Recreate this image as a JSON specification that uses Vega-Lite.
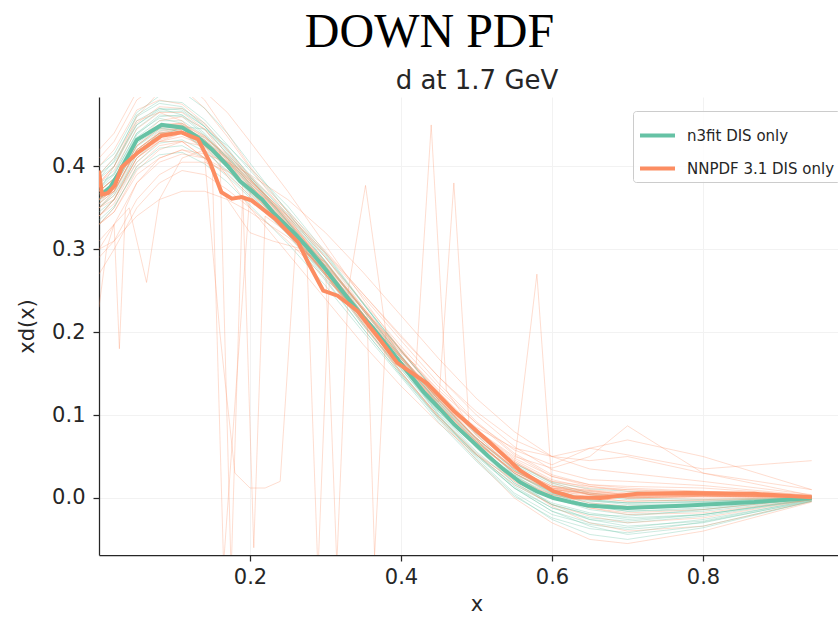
{
"$schema": "https://vega.github.io/schema/vega-lite/v6.json",
"width": 755, "height": 458,
"autosize": {"type": "none"},
"padding": {"left": 99, "top": 97, "right": 0, "bottom": 62},
"background": "white",
"title": {"text": "DOWN PDF", "font": "Liberation Serif", "fontSize": 48, "fontWeight": "normal", "color": "#000000", "anchor": "middle", "dx": -47, "offset": 10},
"config": {
 "view": {"stroke": null},
 "axis": {"domainColor": "#262626", "domainWidth": 1.25, "tickColor": "#262626", "tickSize": 6, "tickWidth": 1.25, "labelFont": "DejaVu Sans", "labelFontSize": 21, "labelColor": "#262626", "titleFont": "DejaVu Sans", "titleFontSize": 21, "titleFontWeight": "normal", "titleColor": "#262626", "gridColor": "#f2f2f2", "gridWidth": 1},
 "legend": {"orient": "top-right", "offset": 14, "labelFont": "DejaVu Sans", "labelFontSize": 15, "labelColor": "#262626", "symbolType": "stroke", "symbolSize": 1225, "symbolStrokeWidth": 4, "strokeColor": "#cccccc", "fillColor": "rgba(255,255,255,0.85)", "padding": 5, "rowPadding": 5, "labelOffset": 10, "cornerRadius": 3, "titlePadding": 0}
},
"datasets": {
"c": [
{"s":"n3fit DIS only","x":0.002,"y":0.365},{"s":"n3fit DIS only","x":0.015,"y":0.375},{"s":"n3fit DIS only","x":0.027,"y":0.393},{"s":"n3fit DIS only","x":0.05,"y":0.432},{"s":"n3fit DIS only","x":0.083,"y":0.45},{"s":"n3fit DIS only","x":0.11,"y":0.447},{"s":"n3fit DIS only","x":0.131,"y":0.435},{"s":"n3fit DIS only","x":0.15,"y":0.42},{"s":"n3fit DIS only","x":0.171,"y":0.4},{"s":"n3fit DIS only","x":0.187,"y":0.382},{"s":"n3fit DIS only","x":0.216,"y":0.36},{"s":"n3fit DIS only","x":0.231,"y":0.344},{"s":"n3fit DIS only","x":0.26,"y":0.318},{"s":"n3fit DIS only","x":0.276,"y":0.302},{"s":"n3fit DIS only","x":0.3,"y":0.276},{"s":"n3fit DIS only","x":0.32,"y":0.252},{"s":"n3fit DIS only","x":0.35,"y":0.218},{"s":"n3fit DIS only","x":0.363,"y":0.205},{"s":"n3fit DIS only","x":0.39,"y":0.174},{"s":"n3fit DIS only","x":0.408,"y":0.153},{"s":"n3fit DIS only","x":0.43,"y":0.128},{"s":"n3fit DIS only","x":0.452,"y":0.107},{"s":"n3fit DIS only","x":0.47,"y":0.089},{"s":"n3fit DIS only","x":0.49,"y":0.072},{"s":"n3fit DIS only","x":0.515,"y":0.051},{"s":"n3fit DIS only","x":0.535,"y":0.035},{"s":"n3fit DIS only","x":0.558,"y":0.019},{"s":"n3fit DIS only","x":0.58,"y":0.008},{"s":"n3fit DIS only","x":0.602,"y":0.0},{"s":"n3fit DIS only","x":0.625,"y":-0.005},{"s":"n3fit DIS only","x":0.647,"y":-0.009},{"s":"n3fit DIS only","x":0.7,"y":-0.012},{"s":"n3fit DIS only","x":0.78,"y":-0.009},{"s":"n3fit DIS only","x":0.868,"y":-0.005},{"s":"n3fit DIS only","x":0.944,"y":0.0},
{"s":"NNPDF 3.1 DIS only","x":0.0,"y":0.395},{"s":"NNPDF 3.1 DIS only","x":0.004,"y":0.366},{"s":"NNPDF 3.1 DIS only","x":0.012,"y":0.368},{"s":"NNPDF 3.1 DIS only","x":0.021,"y":0.377},{"s":"NNPDF 3.1 DIS only","x":0.03,"y":0.399},{"s":"NNPDF 3.1 DIS only","x":0.052,"y":0.417},{"s":"NNPDF 3.1 DIS only","x":0.083,"y":0.437},{"s":"NNPDF 3.1 DIS only","x":0.109,"y":0.441},{"s":"NNPDF 3.1 DIS only","x":0.131,"y":0.433},{"s":"NNPDF 3.1 DIS only","x":0.147,"y":0.405},{"s":"NNPDF 3.1 DIS only","x":0.162,"y":0.369},{"s":"NNPDF 3.1 DIS only","x":0.176,"y":0.361},{"s":"NNPDF 3.1 DIS only","x":0.189,"y":0.363},{"s":"NNPDF 3.1 DIS only","x":0.202,"y":0.359},{"s":"NNPDF 3.1 DIS only","x":0.233,"y":0.337},{"s":"NNPDF 3.1 DIS only","x":0.264,"y":0.308},{"s":"NNPDF 3.1 DIS only","x":0.277,"y":0.284},{"s":"NNPDF 3.1 DIS only","x":0.297,"y":0.25},{"s":"NNPDF 3.1 DIS only","x":0.316,"y":0.244},{"s":"NNPDF 3.1 DIS only","x":0.342,"y":0.226},{"s":"NNPDF 3.1 DIS only","x":0.373,"y":0.19},{"s":"NNPDF 3.1 DIS only","x":0.395,"y":0.163},{"s":"NNPDF 3.1 DIS only","x":0.435,"y":0.138},{"s":"NNPDF 3.1 DIS only","x":0.47,"y":0.105},{"s":"NNPDF 3.1 DIS only","x":0.515,"y":0.069},{"s":"NNPDF 3.1 DIS only","x":0.558,"y":0.033},{"s":"NNPDF 3.1 DIS only","x":0.602,"y":0.008},{"s":"NNPDF 3.1 DIS only","x":0.628,"y":0.001},{"s":"NNPDF 3.1 DIS only","x":0.664,"y":0.0},{"s":"NNPDF 3.1 DIS only","x":0.713,"y":0.005},{"s":"NNPDF 3.1 DIS only","x":0.78,"y":0.006},{"s":"NNPDF 3.1 DIS only","x":0.868,"y":0.005},{"s":"NNPDF 3.1 DIS only","x":0.944,"y":0.001}
],
"g": [
{"r":1,"x":0,"y":0.385},{"r":1,"x":0.02,"y":0.407},{"r":1,"x":0.05,"y":0.462},{"r":1,"x":0.08,"y":0.479},{"r":1,"x":0.11,"y":0.477},{"r":1,"x":0.14,"y":0.456},{"r":1,"x":0.17,"y":0.426},{"r":1,"x":0.2,"y":0.395},{"r":1,"x":0.25,"y":0.347},{"r":1,"x":0.3,"y":0.294},{"r":1,"x":0.35,"y":0.234},{"r":1,"x":0.4,"y":0.177},{"r":1,"x":0.45,"y":0.124},{"r":1,"x":0.5,"y":0.08},{"r":1,"x":0.55,"y":0.042},{"r":1,"x":0.6,"y":0.019},{"r":1,"x":0.65,"y":0.011},{"r":1,"x":0.7,"y":0.008},{"r":1,"x":0.8,"y":0.004},{"r":1,"x":0.944,"y":0.003},
{"r":2,"x":0,"y":0.335},{"r":2,"x":0.02,"y":0.352},{"r":2,"x":0.05,"y":0.397},{"r":2,"x":0.08,"y":0.414},{"r":2,"x":0.11,"y":0.417},{"r":2,"x":0.14,"y":0.403},{"r":2,"x":0.17,"y":0.381},{"r":2,"x":0.2,"y":0.353},{"r":2,"x":0.25,"y":0.307},{"r":2,"x":0.3,"y":0.256},{"r":2,"x":0.35,"y":0.2},{"r":2,"x":0.4,"y":0.146},{"r":2,"x":0.45,"y":0.091},{"r":2,"x":0.5,"y":0.044},{"r":2,"x":0.55,"y":0.002},{"r":2,"x":0.6,"y":-0.024},{"r":2,"x":0.65,"y":-0.037},{"r":2,"x":0.7,"y":-0.042},{"r":2,"x":0.8,"y":-0.029},{"r":2,"x":0.944,"y":-0.004},
{"r":3,"x":0,"y":0.37},{"r":3,"x":0.02,"y":0.4},{"r":3,"x":0.05,"y":0.455},{"r":3,"x":0.08,"y":0.47},{"r":3,"x":0.11,"y":0.462},{"r":3,"x":0.14,"y":0.44},{"r":3,"x":0.17,"y":0.41},{"r":3,"x":0.2,"y":0.378},{"r":3,"x":0.25,"y":0.326},{"r":3,"x":0.3,"y":0.27},{"r":3,"x":0.35,"y":0.21},{"r":3,"x":0.4,"y":0.152},{"r":3,"x":0.45,"y":0.098},{"r":3,"x":0.5,"y":0.052},{"r":3,"x":0.55,"y":0.012},{"r":3,"x":0.6,"y":-0.012},{"r":3,"x":0.65,"y":-0.024},{"r":3,"x":0.7,"y":-0.028},{"r":3,"x":0.8,"y":-0.02},{"r":3,"x":0.944,"y":-0.002},
{"r":4,"x":0,"y":0.35},{"r":4,"x":0.02,"y":0.365},{"r":4,"x":0.05,"y":0.41},{"r":4,"x":0.08,"y":0.435},{"r":4,"x":0.11,"y":0.448},{"r":4,"x":0.14,"y":0.445},{"r":4,"x":0.17,"y":0.425},{"r":4,"x":0.2,"y":0.398},{"r":4,"x":0.25,"y":0.352},{"r":4,"x":0.3,"y":0.296},{"r":4,"x":0.35,"y":0.235},{"r":4,"x":0.4,"y":0.172},{"r":4,"x":0.45,"y":0.112},{"r":4,"x":0.5,"y":0.06},{"r":4,"x":0.55,"y":0.018},{"r":4,"x":0.6,"y":-0.008},{"r":4,"x":0.65,"y":-0.02},{"r":4,"x":0.7,"y":-0.022},{"r":4,"x":0.8,"y":-0.014},{"r":4,"x":0.944,"y":0.0},
{"r":5,"x":0,"y":0.38},{"r":5,"x":0.02,"y":0.39},{"r":5,"x":0.05,"y":0.44},{"r":5,"x":0.08,"y":0.462},{"r":5,"x":0.11,"y":0.46},{"r":5,"x":0.14,"y":0.438},{"r":5,"x":0.17,"y":0.408},{"r":5,"x":0.2,"y":0.376},{"r":5,"x":0.25,"y":0.324},{"r":5,"x":0.3,"y":0.268},{"r":5,"x":0.35,"y":0.208},{"r":5,"x":0.4,"y":0.155},{"r":5,"x":0.45,"y":0.104},{"r":5,"x":0.5,"y":0.062},{"r":5,"x":0.55,"y":0.028},{"r":5,"x":0.6,"y":0.008},{"r":5,"x":0.65,"y":-0.002},{"r":5,"x":0.7,"y":-0.006},{"r":5,"x":0.8,"y":-0.005},{"r":5,"x":0.944,"y":0.001},
{"r":6,"x":0,"y":0.355},{"r":6,"x":0.02,"y":0.37},{"r":6,"x":0.05,"y":0.42},{"r":6,"x":0.08,"y":0.44},{"r":6,"x":0.11,"y":0.44},{"r":6,"x":0.14,"y":0.423},{"r":6,"x":0.17,"y":0.398},{"r":6,"x":0.2,"y":0.372},{"r":6,"x":0.25,"y":0.33},{"r":6,"x":0.3,"y":0.283},{"r":6,"x":0.35,"y":0.228},{"r":6,"x":0.4,"y":0.172},{"r":6,"x":0.45,"y":0.118},{"r":6,"x":0.5,"y":0.07},{"r":6,"x":0.55,"y":0.028},{"r":6,"x":0.6,"y":0.0},{"r":6,"x":0.65,"y":-0.014},{"r":6,"x":0.7,"y":-0.02},{"r":6,"x":0.8,"y":-0.016},{"r":6,"x":0.944,"y":-0.002},
{"r":7,"x":0,"y":0.39},{"r":7,"x":0.02,"y":0.405},{"r":7,"x":0.05,"y":0.45},{"r":7,"x":0.08,"y":0.468},{"r":7,"x":0.11,"y":0.47},{"r":7,"x":0.14,"y":0.452},{"r":7,"x":0.17,"y":0.422},{"r":7,"x":0.2,"y":0.388},{"r":7,"x":0.25,"y":0.333},{"r":7,"x":0.3,"y":0.273},{"r":7,"x":0.35,"y":0.21},{"r":7,"x":0.4,"y":0.15},{"r":7,"x":0.45,"y":0.096},{"r":7,"x":0.5,"y":0.05},{"r":7,"x":0.55,"y":0.012},{"r":7,"x":0.6,"y":-0.016},{"r":7,"x":0.65,"y":-0.03},{"r":7,"x":0.7,"y":-0.036},{"r":7,"x":0.8,"y":-0.026},{"r":7,"x":0.944,"y":-0.003},
{"r":8,"x":0,"y":0.345},{"r":8,"x":0.02,"y":0.36},{"r":8,"x":0.05,"y":0.405},{"r":8,"x":0.08,"y":0.428},{"r":8,"x":0.11,"y":0.432},{"r":8,"x":0.14,"y":0.418},{"r":8,"x":0.17,"y":0.395},{"r":8,"x":0.2,"y":0.367},{"r":8,"x":0.25,"y":0.322},{"r":8,"x":0.3,"y":0.273},{"r":8,"x":0.35,"y":0.22},{"r":8,"x":0.4,"y":0.168},{"r":8,"x":0.45,"y":0.12},{"r":8,"x":0.5,"y":0.078},{"r":8,"x":0.55,"y":0.042},{"r":8,"x":0.6,"y":0.018},{"r":8,"x":0.65,"y":0.006},{"r":8,"x":0.7,"y":0.0},{"r":8,"x":0.8,"y":-0.002},{"r":8,"x":0.944,"y":0.001},
{"r":9,"x":0,"y":0.37},{"r":9,"x":0.02,"y":0.385},{"r":9,"x":0.05,"y":0.435},{"r":9,"x":0.08,"y":0.455},{"r":9,"x":0.11,"y":0.455},{"r":9,"x":0.14,"y":0.437},{"r":9,"x":0.17,"y":0.411},{"r":9,"x":0.2,"y":0.382},{"r":9,"x":0.25,"y":0.333},{"r":9,"x":0.3,"y":0.28},{"r":9,"x":0.35,"y":0.22},{"r":9,"x":0.4,"y":0.161},{"r":9,"x":0.45,"y":0.104},{"r":9,"x":0.5,"y":0.056},{"r":9,"x":0.55,"y":0.018},{"r":9,"x":0.6,"y":-0.006},{"r":9,"x":0.65,"y":-0.018},{"r":9,"x":0.7,"y":-0.024},{"r":9,"x":0.8,"y":-0.02},{"r":9,"x":0.944,"y":-0.001},
{"r":10,"x":0,"y":0.36},{"r":10,"x":0.02,"y":0.378},{"r":10,"x":0.05,"y":0.428},{"r":10,"x":0.08,"y":0.446},{"r":10,"x":0.11,"y":0.442},{"r":10,"x":0.14,"y":0.42},{"r":10,"x":0.17,"y":0.392},{"r":10,"x":0.2,"y":0.364},{"r":10,"x":0.25,"y":0.32},{"r":10,"x":0.3,"y":0.272},{"r":10,"x":0.35,"y":0.217},{"r":10,"x":0.4,"y":0.165},{"r":10,"x":0.45,"y":0.116},{"r":10,"x":0.5,"y":0.072},{"r":10,"x":0.55,"y":0.034},{"r":10,"x":0.6,"y":0.01},{"r":10,"x":0.65,"y":-0.003},{"r":10,"x":0.7,"y":-0.008},{"r":10,"x":0.8,"y":-0.008},{"r":10,"x":0.944,"y":0.0},
{"r":11,"x":0,"y":0.4},{"r":11,"x":0.02,"y":0.415},{"r":11,"x":0.05,"y":0.465},{"r":11,"x":0.08,"y":0.485},{"r":11,"x":0.11,"y":0.49},{"r":11,"x":0.14,"y":0.47},{"r":11,"x":0.17,"y":0.44},{"r":11,"x":0.2,"y":0.404},{"r":11,"x":0.25,"y":0.345},{"r":11,"x":0.3,"y":0.285},{"r":11,"x":0.35,"y":0.222},{"r":11,"x":0.4,"y":0.16},{"r":11,"x":0.45,"y":0.1},{"r":11,"x":0.5,"y":0.048},{"r":11,"x":0.55,"y":0.006},{"r":11,"x":0.6,"y":-0.02},{"r":11,"x":0.65,"y":-0.032},{"r":11,"x":0.7,"y":-0.038},{"r":11,"x":0.8,"y":-0.03},{"r":11,"x":0.944,"y":-0.003},
{"r":12,"x":0,"y":0.33},{"r":12,"x":0.02,"y":0.35},{"r":12,"x":0.05,"y":0.4},{"r":12,"x":0.08,"y":0.422},{"r":12,"x":0.11,"y":0.425},{"r":12,"x":0.14,"y":0.41},{"r":12,"x":0.17,"y":0.388},{"r":12,"x":0.2,"y":0.362},{"r":12,"x":0.25,"y":0.318},{"r":12,"x":0.3,"y":0.268},{"r":12,"x":0.35,"y":0.215},{"r":12,"x":0.4,"y":0.164},{"r":12,"x":0.45,"y":0.114},{"r":12,"x":0.5,"y":0.07},{"r":12,"x":0.55,"y":0.03},{"r":12,"x":0.6,"y":0.005},{"r":12,"x":0.65,"y":-0.01},{"r":12,"x":0.7,"y":-0.016},{"r":12,"x":0.8,"y":-0.014},{"r":12,"x":0.944,"y":-0.001},
{"r":13,"x":0,"y":0.372},{"r":13,"x":0.02,"y":0.39},{"r":13,"x":0.05,"y":0.44},{"r":13,"x":0.08,"y":0.458},{"r":13,"x":0.11,"y":0.452},{"r":13,"x":0.14,"y":0.43},{"r":13,"x":0.17,"y":0.4},{"r":13,"x":0.2,"y":0.37},{"r":13,"x":0.25,"y":0.322},{"r":13,"x":0.3,"y":0.27},{"r":13,"x":0.35,"y":0.214},{"r":13,"x":0.4,"y":0.158},{"r":13,"x":0.45,"y":0.106},{"r":13,"x":0.5,"y":0.062},{"r":13,"x":0.55,"y":0.026},{"r":13,"x":0.6,"y":0.004},{"r":13,"x":0.65,"y":-0.004},{"r":13,"x":0.7,"y":-0.006},{"r":13,"x":0.8,"y":-0.004},{"r":13,"x":0.944,"y":0.001},
{"r":14,"x":0,"y":0.358},{"r":14,"x":0.02,"y":0.374},{"r":14,"x":0.05,"y":0.424},{"r":14,"x":0.08,"y":0.443},{"r":14,"x":0.11,"y":0.446},{"r":14,"x":0.14,"y":0.43},{"r":14,"x":0.17,"y":0.406},{"r":14,"x":0.2,"y":0.38},{"r":14,"x":0.25,"y":0.337},{"r":14,"x":0.3,"y":0.286},{"r":14,"x":0.35,"y":0.228},{"r":14,"x":0.4,"y":0.17},{"r":14,"x":0.45,"y":0.115},{"r":14,"x":0.5,"y":0.066},{"r":14,"x":0.55,"y":0.022},{"r":14,"x":0.6,"y":-0.008},{"r":14,"x":0.65,"y":-0.026},{"r":14,"x":0.7,"y":-0.034},{"r":14,"x":0.8,"y":-0.028},{"r":14,"x":0.944,"y":-0.002},
{"r":15,"x":0,"y":0.362},{"r":15,"x":0.02,"y":0.38},{"r":15,"x":0.05,"y":0.43},{"r":15,"x":0.08,"y":0.448},{"r":15,"x":0.11,"y":0.446},{"r":15,"x":0.14,"y":0.426},{"r":15,"x":0.17,"y":0.398},{"r":15,"x":0.2,"y":0.368},{"r":15,"x":0.25,"y":0.318},{"r":15,"x":0.3,"y":0.262},{"r":15,"x":0.35,"y":0.204},{"r":15,"x":0.4,"y":0.148},{"r":15,"x":0.45,"y":0.094},{"r":15,"x":0.5,"y":0.046},{"r":15,"x":0.55,"y":0.004},{"r":15,"x":0.6,"y":-0.026},{"r":15,"x":0.65,"y":-0.044},{"r":15,"x":0.7,"y":-0.05},{"r":15,"x":0.8,"y":-0.036},{"r":15,"x":0.944,"y":-0.004},
{"r":16,"x":0,"y":0.375},{"r":16,"x":0.02,"y":0.392},{"r":16,"x":0.05,"y":0.446},{"r":16,"x":0.08,"y":0.466},{"r":16,"x":0.11,"y":0.466},{"r":16,"x":0.14,"y":0.448},{"r":16,"x":0.17,"y":0.42},{"r":16,"x":0.2,"y":0.39},{"r":16,"x":0.25,"y":0.34},{"r":16,"x":0.3,"y":0.285},{"r":16,"x":0.35,"y":0.226},{"r":16,"x":0.4,"y":0.168},{"r":16,"x":0.45,"y":0.114},{"r":16,"x":0.5,"y":0.068},{"r":16,"x":0.55,"y":0.03},{"r":16,"x":0.6,"y":0.006},{"r":16,"x":0.65,"y":-0.006},{"r":16,"x":0.7,"y":-0.01},{"r":16,"x":0.8,"y":-0.008},{"r":16,"x":0.944,"y":0.0},
{"r":17,"x":0,"y":0.34},{"r":17,"x":0.02,"y":0.36},{"r":17,"x":0.05,"y":0.415},{"r":17,"x":0.08,"y":0.44},{"r":17,"x":0.11,"y":0.445},{"r":17,"x":0.14,"y":0.432},{"r":17,"x":0.17,"y":0.41},{"r":17,"x":0.2,"y":0.384},{"r":17,"x":0.25,"y":0.34},{"r":17,"x":0.3,"y":0.29},{"r":17,"x":0.35,"y":0.234},{"r":17,"x":0.4,"y":0.178},{"r":17,"x":0.45,"y":0.124},{"r":17,"x":0.5,"y":0.076},{"r":17,"x":0.55,"y":0.034},{"r":17,"x":0.6,"y":0.006},{"r":17,"x":0.65,"y":-0.01},{"r":17,"x":0.7,"y":-0.016},{"r":17,"x":0.8,"y":-0.012},{"r":17,"x":0.944,"y":-0.001},
{"r":18,"x":0,"y":0.385},{"r":18,"x":0.02,"y":0.4},{"r":18,"x":0.05,"y":0.45},{"r":18,"x":0.08,"y":0.47},{"r":18,"x":0.11,"y":0.468},{"r":18,"x":0.14,"y":0.448},{"r":18,"x":0.17,"y":0.418},{"r":18,"x":0.2,"y":0.386},{"r":18,"x":0.25,"y":0.334},{"r":18,"x":0.3,"y":0.277},{"r":18,"x":0.35,"y":0.217},{"r":18,"x":0.4,"y":0.158},{"r":18,"x":0.45,"y":0.102},{"r":18,"x":0.5,"y":0.054},{"r":18,"x":0.55,"y":0.014},{"r":18,"x":0.6,"y":-0.012},{"r":18,"x":0.65,"y":-0.026},{"r":18,"x":0.7,"y":-0.03},{"r":18,"x":0.8,"y":-0.022},{"r":18,"x":0.944,"y":-0.002},
{"r":19,"x":0,"y":0.35},{"r":19,"x":0.02,"y":0.368},{"r":19,"x":0.05,"y":0.418},{"r":19,"x":0.08,"y":0.438},{"r":19,"x":0.11,"y":0.44},{"r":19,"x":0.14,"y":0.426},{"r":19,"x":0.17,"y":0.403},{"r":19,"x":0.2,"y":0.376},{"r":19,"x":0.25,"y":0.332},{"r":19,"x":0.3,"y":0.282},{"r":19,"x":0.35,"y":0.226},{"r":19,"x":0.4,"y":0.171},{"r":19,"x":0.45,"y":0.118},{"r":19,"x":0.5,"y":0.072},{"r":19,"x":0.55,"y":0.033},{"r":19,"x":0.6,"y":0.01},{"r":19,"x":0.65,"y":-0.002},{"r":19,"x":0.7,"y":-0.006},{"r":19,"x":0.8,"y":-0.006},{"r":19,"x":0.944,"y":0.0},
{"r":20,"x":0,"y":0.37},{"r":20,"x":0.02,"y":0.386},{"r":20,"x":0.05,"y":0.438},{"r":20,"x":0.08,"y":0.46},{"r":20,"x":0.11,"y":0.462},{"r":20,"x":0.14,"y":0.444},{"r":20,"x":0.17,"y":0.416},{"r":20,"x":0.2,"y":0.385},{"r":20,"x":0.25,"y":0.333},{"r":20,"x":0.3,"y":0.276},{"r":20,"x":0.35,"y":0.215},{"r":20,"x":0.4,"y":0.156},{"r":20,"x":0.45,"y":0.1},{"r":20,"x":0.5,"y":0.052},{"r":20,"x":0.55,"y":0.012},{"r":20,"x":0.6,"y":-0.016},{"r":20,"x":0.65,"y":-0.034},{"r":20,"x":0.7,"y":-0.044},{"r":20,"x":0.8,"y":-0.034},{"r":20,"x":0.944,"y":-0.004},
{"r":21,"x":0,"y":0.36},{"r":21,"x":0.02,"y":0.375},{"r":21,"x":0.05,"y":0.425},{"r":21,"x":0.08,"y":0.445},{"r":21,"x":0.11,"y":0.448},{"r":21,"x":0.14,"y":0.434},{"r":21,"x":0.17,"y":0.412},{"r":21,"x":0.2,"y":0.387},{"r":21,"x":0.25,"y":0.343},{"r":21,"x":0.3,"y":0.292},{"r":21,"x":0.35,"y":0.235},{"r":21,"x":0.4,"y":0.178},{"r":21,"x":0.45,"y":0.124},{"r":21,"x":0.5,"y":0.078},{"r":21,"x":0.55,"y":0.04},{"r":21,"x":0.6,"y":0.016},{"r":21,"x":0.65,"y":0.004},{"r":21,"x":0.7,"y":-0.002},{"r":21,"x":0.8,"y":-0.004},{"r":21,"x":0.944,"y":0.0},
{"r":22,"x":0,"y":0.39},{"r":22,"x":0.02,"y":0.41},{"r":22,"x":0.05,"y":0.46},{"r":22,"x":0.08,"y":0.476},{"r":22,"x":0.11,"y":0.472},{"r":22,"x":0.14,"y":0.448},{"r":22,"x":0.17,"y":0.414},{"r":22,"x":0.2,"y":0.378},{"r":22,"x":0.25,"y":0.322},{"r":22,"x":0.3,"y":0.264},{"r":22,"x":0.35,"y":0.204},{"r":22,"x":0.4,"y":0.148},{"r":22,"x":0.45,"y":0.096},{"r":22,"x":0.5,"y":0.052},{"r":22,"x":0.55,"y":0.016},{"r":22,"x":0.6,"y":-0.008},{"r":22,"x":0.65,"y":-0.02},{"r":22,"x":0.7,"y":-0.026},{"r":22,"x":0.8,"y":-0.02},{"r":22,"x":0.944,"y":-0.002}
],
"o": [
{"r":1,"x":0,"y":0.36},{"r":1,"x":0.02,"y":0.38},{"r":1,"x":0.05,"y":0.43},{"r":1,"x":0.08,"y":0.45},{"r":1,"x":0.11,"y":0.448},{"r":1,"x":0.14,"y":0.43},{"r":1,"x":0.17,"y":0.402},{"r":1,"x":0.2,"y":0.372},{"r":1,"x":0.25,"y":0.322},{"r":1,"x":0.3,"y":0.268},{"r":1,"x":0.35,"y":0.212},{"r":1,"x":0.4,"y":0.158},{"r":1,"x":0.45,"y":0.108},{"r":1,"x":0.5,"y":0.066},{"r":1,"x":0.55,"y":0.032},{"r":1,"x":0.6,"y":0.012},{"r":1,"x":0.65,"y":0.004},{"r":1,"x":0.7,"y":0.002},{"r":1,"x":0.8,"y":0.003},{"r":1,"x":0.944,"y":0.001},
{"r":2,"x":0,"y":0.31},{"r":2,"x":0.02,"y":0.33},{"r":2,"x":0.05,"y":0.38},{"r":2,"x":0.08,"y":0.405},{"r":2,"x":0.11,"y":0.415},{"r":2,"x":0.14,"y":0.41},{"r":2,"x":0.17,"y":0.395},{"r":2,"x":0.2,"y":0.37},{"r":2,"x":0.25,"y":0.328},{"r":2,"x":0.3,"y":0.28},{"r":2,"x":0.35,"y":0.228},{"r":2,"x":0.4,"y":0.176},{"r":2,"x":0.45,"y":0.126},{"r":2,"x":0.5,"y":0.082},{"r":2,"x":0.55,"y":0.046},{"r":2,"x":0.6,"y":0.022},{"r":2,"x":0.65,"y":0.012},{"r":2,"x":0.7,"y":0.01},{"r":2,"x":0.8,"y":0.008},{"r":2,"x":0.944,"y":0.002},
{"r":3,"x":0,"y":0.4},{"r":3,"x":0.02,"y":0.42},{"r":3,"x":0.05,"y":0.468},{"r":3,"x":0.08,"y":0.48},{"r":3,"x":0.11,"y":0.475},{"r":3,"x":0.14,"y":0.452},{"r":3,"x":0.17,"y":0.42},{"r":3,"x":0.2,"y":0.385},{"r":3,"x":0.25,"y":0.33},{"r":3,"x":0.3,"y":0.27},{"r":3,"x":0.35,"y":0.208},{"r":3,"x":0.4,"y":0.15},{"r":3,"x":0.45,"y":0.098},{"r":3,"x":0.5,"y":0.054},{"r":3,"x":0.55,"y":0.02},{"r":3,"x":0.6,"y":0.0},{"r":3,"x":0.65,"y":-0.01},{"r":3,"x":0.7,"y":-0.012},{"r":3,"x":0.8,"y":-0.008},{"r":3,"x":0.944,"y":0.0},
{"r":4,"x":0,"y":0.34},{"r":4,"x":0.02,"y":0.36},{"r":4,"x":0.05,"y":0.41},{"r":4,"x":0.08,"y":0.432},{"r":4,"x":0.11,"y":0.44},{"r":4,"x":0.14,"y":0.43},{"r":4,"x":0.17,"y":0.408},{"r":4,"x":0.2,"y":0.38},{"r":4,"x":0.25,"y":0.332},{"r":4,"x":0.3,"y":0.278},{"r":4,"x":0.35,"y":0.222},{"r":4,"x":0.4,"y":0.168},{"r":4,"x":0.45,"y":0.118},{"r":4,"x":0.5,"y":0.076},{"r":4,"x":0.55,"y":0.042},{"r":4,"x":0.6,"y":0.02},{"r":4,"x":0.65,"y":0.01},{"r":4,"x":0.7,"y":0.006},{"r":4,"x":0.8,"y":0.004},{"r":4,"x":0.944,"y":0.001},
{"r":5,"x":0,"y":0.38},{"r":5,"x":0.02,"y":0.4},{"r":5,"x":0.05,"y":0.452},{"r":5,"x":0.08,"y":0.472},{"r":5,"x":0.11,"y":0.47},{"r":5,"x":0.14,"y":0.45},{"r":5,"x":0.17,"y":0.42},{"r":5,"x":0.2,"y":0.388},{"r":5,"x":0.25,"y":0.336},{"r":5,"x":0.3,"y":0.28},{"r":5,"x":0.35,"y":0.222},{"r":5,"x":0.4,"y":0.164},{"r":5,"x":0.45,"y":0.11},{"r":5,"x":0.5,"y":0.064},{"r":5,"x":0.55,"y":0.026},{"r":5,"x":0.6,"y":0.002},{"r":5,"x":0.65,"y":-0.012},{"r":5,"x":0.7,"y":-0.018},{"r":5,"x":0.8,"y":-0.014},{"r":5,"x":0.944,"y":-0.001},
{"r":6,"x":0,"y":0.29},{"r":6,"x":0.02,"y":0.31},{"r":6,"x":0.05,"y":0.36},{"r":6,"x":0.08,"y":0.39},{"r":6,"x":0.11,"y":0.405},{"r":6,"x":0.14,"y":0.405},{"r":6,"x":0.17,"y":0.394},{"r":6,"x":0.2,"y":0.376},{"r":6,"x":0.25,"y":0.34},{"r":6,"x":0.3,"y":0.295},{"r":6,"x":0.35,"y":0.243},{"r":6,"x":0.4,"y":0.19},{"r":6,"x":0.45,"y":0.138},{"r":6,"x":0.5,"y":0.092},{"r":6,"x":0.55,"y":0.054},{"r":6,"x":0.6,"y":0.028},{"r":6,"x":0.65,"y":0.016},{"r":6,"x":0.7,"y":0.012},{"r":6,"x":0.8,"y":0.008},{"r":6,"x":0.944,"y":0.002},
{"r":7,"x":0,"y":0.41},{"r":7,"x":0.02,"y":0.43},{"r":7,"x":0.05,"y":0.48},{"r":7,"x":0.08,"y":0.5},{"r":7,"x":0.11,"y":0.495},{"r":7,"x":0.14,"y":0.47},{"r":7,"x":0.17,"y":0.436},{"r":7,"x":0.2,"y":0.398},{"r":7,"x":0.25,"y":0.34},{"r":7,"x":0.3,"y":0.276},{"r":7,"x":0.35,"y":0.212},{"r":7,"x":0.4,"y":0.152},{"r":7,"x":0.45,"y":0.098},{"r":7,"x":0.5,"y":0.052},{"r":7,"x":0.55,"y":0.016},{"r":7,"x":0.6,"y":-0.008},{"r":7,"x":0.65,"y":-0.022},{"r":7,"x":0.7,"y":-0.03},{"r":7,"x":0.8,"y":-0.024},{"r":7,"x":0.944,"y":-0.002},
{"r":8,"x":0,"y":0.36},{"r":8,"x":0.02,"y":0.375},{"r":8,"x":0.05,"y":0.425},{"r":8,"x":0.08,"y":0.445},{"r":8,"x":0.11,"y":0.445},{"r":8,"x":0.14,"y":0.428},{"r":8,"x":0.17,"y":0.402},{"r":8,"x":0.2,"y":0.375},{"r":8,"x":0.25,"y":0.33},{"r":8,"x":0.3,"y":0.278},{"r":8,"x":0.35,"y":0.222},{"r":8,"x":0.4,"y":0.17},{"r":8,"x":0.45,"y":0.122},{"r":8,"x":0.5,"y":0.082},{"r":8,"x":0.55,"y":0.05},{"r":8,"x":0.6,"y":0.036},{"r":8,"x":0.65,"y":0.05},{"r":8,"x":0.7,"y":0.087},{"r":8,"x":0.8,"y":0.03},{"r":8,"x":0.944,"y":0.003},
{"r":9,"x":0,"y":0.35},{"r":9,"x":0.02,"y":0.37},{"r":9,"x":0.05,"y":0.42},{"r":9,"x":0.08,"y":0.44},{"r":9,"x":0.11,"y":0.442},{"r":9,"x":0.14,"y":0.428},{"r":9,"x":0.17,"y":0.405},{"r":9,"x":0.2,"y":0.378},{"r":9,"x":0.25,"y":0.334},{"r":9,"x":0.3,"y":0.284},{"r":9,"x":0.35,"y":0.23},{"r":9,"x":0.4,"y":0.178},{"r":9,"x":0.45,"y":0.13},{"r":9,"x":0.5,"y":0.09},{"r":9,"x":0.55,"y":0.058},{"r":9,"x":0.6,"y":0.04},{"r":9,"x":0.65,"y":0.06},{"r":9,"x":0.7,"y":0.052},{"r":9,"x":0.8,"y":0.035},{"r":9,"x":0.944,"y":0.045},
{"r":10,"x":0,"y":0.37},{"r":10,"x":0.02,"y":0.385},{"r":10,"x":0.05,"y":0.43},{"r":10,"x":0.08,"y":0.45},{"r":10,"x":0.11,"y":0.452},{"r":10,"x":0.14,"y":0.437},{"r":10,"x":0.17,"y":0.412},{"r":10,"x":0.2,"y":0.384},{"r":10,"x":0.25,"y":0.338},{"r":10,"x":0.3,"y":0.284},{"r":10,"x":0.35,"y":0.226},{"r":10,"x":0.4,"y":0.168},{"r":10,"x":0.45,"y":0.112},{"r":10,"x":0.5,"y":0.062},{"r":10,"x":0.55,"y":0.02},{"r":10,"x":0.6,"y":-0.01},{"r":10,"x":0.65,"y":-0.03},{"r":10,"x":0.7,"y":-0.04},{"r":10,"x":0.8,"y":-0.034},{"r":10,"x":0.944,"y":-0.004},
{"r":11,"x":0,"y":0.33},{"r":11,"x":0.02,"y":0.345},{"r":11,"x":0.05,"y":0.395},{"r":11,"x":0.08,"y":0.42},{"r":11,"x":0.11,"y":0.43},{"r":11,"x":0.14,"y":0.424},{"r":11,"x":0.17,"y":0.406},{"r":11,"x":0.2,"y":0.382},{"r":11,"x":0.25,"y":0.342},{"r":11,"x":0.3,"y":0.296},{"r":11,"x":0.35,"y":0.246},{"r":11,"x":0.4,"y":0.196},{"r":11,"x":0.45,"y":0.146},{"r":11,"x":0.5,"y":0.1},{"r":11,"x":0.55,"y":0.062},{"r":11,"x":0.6,"y":0.034},{"r":11,"x":0.65,"y":0.022},{"r":11,"x":0.7,"y":0.02},{"r":11,"x":0.8,"y":0.015},{"r":11,"x":0.944,"y":0.003},
{"r":12,"x":0,"y":0.37},{"r":12,"x":0.02,"y":0.385},{"r":12,"x":0.05,"y":0.43},{"r":12,"x":0.08,"y":0.45},{"r":12,"x":0.11,"y":0.45},{"r":12,"x":0.14,"y":0.432},{"r":12,"x":0.17,"y":0.405},{"r":12,"x":0.2,"y":0.376},{"r":12,"x":0.25,"y":0.326},{"r":12,"x":0.3,"y":0.27},{"r":12,"x":0.35,"y":0.21},{"r":12,"x":0.4,"y":0.152},{"r":12,"x":0.45,"y":0.096},{"r":12,"x":0.5,"y":0.046},{"r":12,"x":0.55,"y":0.0},{"r":12,"x":0.6,"y":-0.03},{"r":12,"x":0.65,"y":-0.05},{"r":12,"x":0.7,"y":-0.055},{"r":12,"x":0.8,"y":-0.04},{"r":12,"x":0.944,"y":-0.005},
{"r":13,"x":0,"y":0.42},{"r":13,"x":0.02,"y":0.44},{"r":13,"x":0.05,"y":0.49},{"r":13,"x":0.08,"y":0.51},{"r":13,"x":0.11,"y":0.505},{"r":13,"x":0.14,"y":0.48},{"r":13,"x":0.17,"y":0.44},{"r":13,"x":0.2,"y":0.4},{"r":13,"x":0.25,"y":0.345},{"r":13,"x":0.3,"y":0.29},{"r":13,"x":0.35,"y":0.23},{"r":13,"x":0.4,"y":0.172},{"r":13,"x":0.45,"y":0.118},{"r":13,"x":0.5,"y":0.072},{"r":13,"x":0.55,"y":0.036},{"r":13,"x":0.6,"y":0.014},{"r":13,"x":0.65,"y":0.004},{"r":13,"x":0.7,"y":0.0},{"r":13,"x":0.8,"y":0.0},{"r":13,"x":0.944,"y":0.001},
{"r":14,"x":0,"y":0.35},{"r":14,"x":0.02,"y":0.365},{"r":14,"x":0.05,"y":0.415},{"r":14,"x":0.08,"y":0.44},{"r":14,"x":0.11,"y":0.445},{"r":14,"x":0.14,"y":0.435},{"r":14,"x":0.17,"y":0.414},{"r":14,"x":0.2,"y":0.388},{"r":14,"x":0.25,"y":0.346},{"r":14,"x":0.3,"y":0.298},{"r":14,"x":0.35,"y":0.246},{"r":14,"x":0.4,"y":0.194},{"r":14,"x":0.45,"y":0.146},{"r":14,"x":0.5,"y":0.104},{"r":14,"x":0.55,"y":0.07},{"r":14,"x":0.6,"y":0.05},{"r":14,"x":0.65,"y":0.045},{"r":14,"x":0.7,"y":0.05},{"r":14,"x":0.8,"y":0.03},{"r":14,"x":0.944,"y":0.01},
{"r":15,"x":0,"y":0.37},{"r":15,"x":0.02,"y":0.385},{"r":15,"x":0.05,"y":0.43},{"r":15,"x":0.08,"y":0.455},{"r":15,"x":0.11,"y":0.46},{"r":15,"x":0.14,"y":0.445},{"r":15,"x":0.16,"y":0.42},{"r":15,"x":0.175,"y":-0.09},{"r":15,"x":0.19,"y":0.36},{"r":15,"x":0.21,"y":0.355},{"r":15,"x":0.25,"y":0.325},{"r":15,"x":0.3,"y":0.27},{"r":15,"x":0.35,"y":0.214},{"r":15,"x":0.4,"y":0.16},{"r":15,"x":0.45,"y":0.11},{"r":15,"x":0.5,"y":0.066},{"r":15,"x":0.55,"y":0.03},{"r":15,"x":0.6,"y":0.008},{"r":15,"x":0.65,"y":0.0},{"r":15,"x":0.7,"y":-0.004},{"r":15,"x":0.8,"y":-0.002},{"r":15,"x":0.944,"y":0.001},
{"r":16,"x":0,"y":0.35},{"r":16,"x":0.02,"y":0.36},{"r":16,"x":0.05,"y":0.41},{"r":16,"x":0.08,"y":0.43},{"r":16,"x":0.11,"y":0.44},{"r":16,"x":0.14,"y":0.43},{"r":16,"x":0.17,"y":0.41},{"r":16,"x":0.19,"y":0.38},{"r":16,"x":0.205,"y":-0.06},{"r":16,"x":0.22,"y":0.34},{"r":16,"x":0.25,"y":0.32},{"r":16,"x":0.3,"y":0.27},{"r":16,"x":0.35,"y":0.215},{"r":16,"x":0.4,"y":0.162},{"r":16,"x":0.45,"y":0.112},{"r":16,"x":0.5,"y":0.068},{"r":16,"x":0.55,"y":0.032},{"r":16,"x":0.6,"y":0.01},{"r":16,"x":0.7,"y":0.002},{"r":16,"x":0.8,"y":0.003},{"r":16,"x":0.944,"y":0.001},
{"r":17,"x":0,"y":0.33},{"r":17,"x":0.02,"y":0.35},{"r":17,"x":0.05,"y":0.4},{"r":17,"x":0.08,"y":0.425},{"r":17,"x":0.11,"y":0.43},{"r":17,"x":0.14,"y":0.41},{"r":17,"x":0.16,"y":0.2},{"r":17,"x":0.18,"y":0.03},{"r":17,"x":0.2,"y":0.012},{"r":17,"x":0.22,"y":0.012},{"r":17,"x":0.24,"y":0.02},{"r":17,"x":0.26,"y":0.3},{"r":17,"x":0.3,"y":0.285},{"r":17,"x":0.35,"y":0.228},{"r":17,"x":0.4,"y":0.17},{"r":17,"x":0.45,"y":0.118},{"r":17,"x":0.5,"y":0.072},{"r":17,"x":0.55,"y":0.036},{"r":17,"x":0.6,"y":0.014},{"r":17,"x":0.7,"y":0.004},{"r":17,"x":0.8,"y":0.004},{"r":17,"x":0.944,"y":0.001},
{"r":18,"x":0,"y":0.36},{"r":18,"x":0.02,"y":0.38},{"r":18,"x":0.05,"y":0.43},{"r":18,"x":0.08,"y":0.45},{"r":18,"x":0.11,"y":0.45},{"r":18,"x":0.14,"y":0.43},{"r":18,"x":0.17,"y":0.405},{"r":18,"x":0.2,"y":0.378},{"r":18,"x":0.25,"y":0.33},{"r":18,"x":0.275,"y":0.3},{"r":18,"x":0.29,"y":-0.09},{"r":18,"x":0.305,"y":0.26},{"r":18,"x":0.33,"y":0.24},{"r":18,"x":0.35,"y":0.222},{"r":18,"x":0.4,"y":0.165},{"r":18,"x":0.45,"y":0.112},{"r":18,"x":0.5,"y":0.068},{"r":18,"x":0.55,"y":0.032},{"r":18,"x":0.6,"y":0.01},{"r":18,"x":0.7,"y":0.0},{"r":18,"x":0.8,"y":0.002},{"r":18,"x":0.944,"y":0.001},
{"r":19,"x":0,"y":0.34},{"r":19,"x":0.02,"y":0.355},{"r":19,"x":0.05,"y":0.405},{"r":19,"x":0.08,"y":0.43},{"r":19,"x":0.11,"y":0.436},{"r":19,"x":0.14,"y":0.425},{"r":19,"x":0.17,"y":0.4},{"r":19,"x":0.2,"y":0.372},{"r":19,"x":0.25,"y":0.33},{"r":19,"x":0.3,"y":0.28},{"r":19,"x":0.315,"y":-0.08},{"r":19,"x":0.33,"y":0.25},{"r":19,"x":0.355,"y":0.22},{"r":19,"x":0.365,"y":-0.07},{"r":19,"x":0.38,"y":0.2},{"r":19,"x":0.4,"y":0.18},{"r":19,"x":0.45,"y":0.125},{"r":19,"x":0.5,"y":0.08},{"r":19,"x":0.55,"y":0.044},{"r":19,"x":0.6,"y":0.02},{"r":19,"x":0.7,"y":0.008},{"r":19,"x":0.8,"y":0.006},{"r":19,"x":0.944,"y":0.001},
{"r":20,"x":0,"y":0.23},{"r":20,"x":0.01,"y":0.3},{"r":20,"x":0.02,"y":0.33},{"r":20,"x":0.027,"y":0.18},{"r":20,"x":0.035,"y":0.35},{"r":20,"x":0.05,"y":0.38},{"r":20,"x":0.08,"y":0.41},{"r":20,"x":0.11,"y":0.42},{"r":20,"x":0.14,"y":0.41},{"r":20,"x":0.17,"y":0.39},{"r":20,"x":0.2,"y":0.365},{"r":20,"x":0.25,"y":0.322},{"r":20,"x":0.3,"y":0.272},{"r":20,"x":0.35,"y":0.218},{"r":20,"x":0.4,"y":0.165},{"r":20,"x":0.45,"y":0.115},{"r":20,"x":0.5,"y":0.072},{"r":20,"x":0.55,"y":0.036},{"r":20,"x":0.6,"y":0.014},{"r":20,"x":0.7,"y":0.004},{"r":20,"x":0.8,"y":0.004},{"r":20,"x":0.944,"y":0.001},
{"r":21,"x":0,"y":0.38},{"r":21,"x":0.02,"y":0.395},{"r":21,"x":0.05,"y":0.445},{"r":21,"x":0.08,"y":0.465},{"r":21,"x":0.11,"y":0.465},{"r":21,"x":0.14,"y":0.445},{"r":21,"x":0.17,"y":0.415},{"r":21,"x":0.2,"y":0.385},{"r":21,"x":0.25,"y":0.335},{"r":21,"x":0.3,"y":0.28},{"r":21,"x":0.33,"y":0.25},{"r":21,"x":0.353,"y":0.377},{"r":21,"x":0.38,"y":0.2},{"r":21,"x":0.4,"y":0.17},{"r":21,"x":0.45,"y":0.118},{"r":21,"x":0.5,"y":0.072},{"r":21,"x":0.55,"y":0.035},{"r":21,"x":0.6,"y":0.012},{"r":21,"x":0.7,"y":0.003},{"r":21,"x":0.8,"y":0.004},{"r":21,"x":0.944,"y":0.001},
{"r":22,"x":0,"y":0.355},{"r":22,"x":0.02,"y":0.37},{"r":22,"x":0.05,"y":0.42},{"r":22,"x":0.08,"y":0.442},{"r":22,"x":0.11,"y":0.446},{"r":22,"x":0.14,"y":0.432},{"r":22,"x":0.17,"y":0.408},{"r":22,"x":0.2,"y":0.38},{"r":22,"x":0.25,"y":0.334},{"r":22,"x":0.3,"y":0.282},{"r":22,"x":0.35,"y":0.228},{"r":22,"x":0.4,"y":0.175},{"r":22,"x":0.42,"y":0.16},{"r":22,"x":0.44,"y":0.45},{"r":22,"x":0.46,"y":0.13},{"r":22,"x":0.5,"y":0.075},{"r":22,"x":0.55,"y":0.036},{"r":22,"x":0.6,"y":0.012},{"r":22,"x":0.65,"y":0.0},{"r":22,"x":0.7,"y":-0.004},{"r":22,"x":0.8,"y":-0.003},{"r":22,"x":0.944,"y":0.0},
{"r":23,"x":0,"y":0.365},{"r":23,"x":0.02,"y":0.38},{"r":23,"x":0.05,"y":0.43},{"r":23,"x":0.08,"y":0.45},{"r":23,"x":0.11,"y":0.452},{"r":23,"x":0.14,"y":0.435},{"r":23,"x":0.17,"y":0.41},{"r":23,"x":0.2,"y":0.382},{"r":23,"x":0.25,"y":0.336},{"r":23,"x":0.3,"y":0.284},{"r":23,"x":0.35,"y":0.228},{"r":23,"x":0.4,"y":0.17},{"r":23,"x":0.45,"y":0.116},{"r":23,"x":0.47,"y":0.38},{"r":23,"x":0.49,"y":0.09},{"r":23,"x":0.55,"y":0.04},{"r":23,"x":0.58,"y":0.27},{"r":23,"x":0.6,"y":0.015},{"r":23,"x":0.65,"y":0.004},{"r":23,"x":0.7,"y":0.0},{"r":23,"x":0.8,"y":0.002},{"r":23,"x":0.944,"y":0.001},
{"r":24,"x":0,"y":0.36},{"r":24,"x":0.02,"y":0.37},{"r":24,"x":0.05,"y":0.42},{"r":24,"x":0.08,"y":0.44},{"r":24,"x":0.11,"y":0.44},{"r":24,"x":0.14,"y":0.42},{"r":24,"x":0.15,"y":0.4},{"r":24,"x":0.165,"y":-0.08},{"r":24,"x":0.2,"y":0.37},{"r":24,"x":0.25,"y":0.33},{"r":24,"x":0.3,"y":0.275},{"r":24,"x":0.35,"y":0.218},{"r":24,"x":0.4,"y":0.164},{"r":24,"x":0.45,"y":0.112},{"r":24,"x":0.5,"y":0.068},{"r":24,"x":0.55,"y":0.03},{"r":24,"x":0.6,"y":0.008},{"r":24,"x":0.7,"y":0.0},{"r":24,"x":0.8,"y":0.002},{"r":24,"x":0.944,"y":0.001},
{"r":25,"x":0,"y":0.3},{"r":25,"x":0.02,"y":0.33},{"r":25,"x":0.04,"y":0.35},{"r":25,"x":0.063,"y":0.26},{"r":25,"x":0.08,"y":0.36},{"r":25,"x":0.11,"y":0.41},{"r":25,"x":0.14,"y":0.42},{"r":25,"x":0.17,"y":0.4},{"r":25,"x":0.2,"y":0.37},{"r":25,"x":0.25,"y":0.325},{"r":25,"x":0.3,"y":0.272},{"r":25,"x":0.35,"y":0.216},{"r":25,"x":0.4,"y":0.162},{"r":25,"x":0.45,"y":0.11},{"r":25,"x":0.5,"y":0.067},{"r":25,"x":0.55,"y":0.032},{"r":25,"x":0.6,"y":0.01},{"r":25,"x":0.7,"y":0.002},{"r":25,"x":0.8,"y":0.003},{"r":25,"x":0.944,"y":0.001},
{"r":26,"x":0,"y":0.33},{"r":26,"x":0.02,"y":0.345},{"r":26,"x":0.05,"y":0.39},{"r":26,"x":0.08,"y":0.41},{"r":26,"x":0.11,"y":0.42},{"r":26,"x":0.14,"y":0.415},{"r":26,"x":0.17,"y":0.405},{"r":26,"x":0.2,"y":0.39},{"r":26,"x":0.25,"y":0.36},{"r":26,"x":0.3,"y":0.32},{"r":26,"x":0.35,"y":0.272},{"r":26,"x":0.4,"y":0.22},{"r":26,"x":0.45,"y":0.168},{"r":26,"x":0.5,"y":0.12},{"r":26,"x":0.55,"y":0.08},{"r":26,"x":0.6,"y":0.05},{"r":26,"x":0.65,"y":0.035},{"r":26,"x":0.7,"y":0.03},{"r":26,"x":0.8,"y":0.02},{"r":26,"x":0.944,"y":0.004},
{"r":27,"x":0,"y":0.3},{"r":27,"x":0.02,"y":0.31},{"r":27,"x":0.05,"y":0.34},{"r":27,"x":0.08,"y":0.36},{"r":27,"x":0.11,"y":0.37},{"r":27,"x":0.14,"y":0.37},{"r":27,"x":0.17,"y":0.36},{"r":27,"x":0.2,"y":0.345},{"r":27,"x":0.25,"y":0.315},{"r":27,"x":0.3,"y":0.275},{"r":27,"x":0.35,"y":0.228},{"r":27,"x":0.4,"y":0.178},{"r":27,"x":0.45,"y":0.128},{"r":27,"x":0.5,"y":0.082},{"r":27,"x":0.55,"y":0.044},{"r":27,"x":0.6,"y":0.018},{"r":27,"x":0.65,"y":0.006},{"r":27,"x":0.7,"y":0.002},{"r":27,"x":0.8,"y":0.002},{"r":27,"x":0.944,"y":0.001},
{"r":28,"x":0,"y":0.39},{"r":28,"x":0.02,"y":0.41},{"r":28,"x":0.05,"y":0.455},{"r":28,"x":0.08,"y":0.465},{"r":28,"x":0.11,"y":0.455},{"r":28,"x":0.14,"y":0.425},{"r":28,"x":0.17,"y":0.388},{"r":28,"x":0.2,"y":0.35},{"r":28,"x":0.25,"y":0.295},{"r":28,"x":0.3,"y":0.24},{"r":28,"x":0.35,"y":0.185},{"r":28,"x":0.4,"y":0.135},{"r":28,"x":0.45,"y":0.09},{"r":28,"x":0.5,"y":0.052},{"r":28,"x":0.55,"y":0.022},{"r":28,"x":0.6,"y":0.004},{"r":28,"x":0.65,"y":-0.006},{"r":28,"x":0.7,"y":-0.01},{"r":28,"x":0.8,"y":-0.008},{"r":28,"x":0.944,"y":0.0},
{"r":29,"x":0,"y":0.27},{"r":29,"x":0.02,"y":0.3},{"r":29,"x":0.05,"y":0.35},{"r":29,"x":0.08,"y":0.38},{"r":29,"x":0.11,"y":0.395},{"r":29,"x":0.14,"y":0.39},{"r":29,"x":0.17,"y":0.372},{"r":29,"x":0.2,"y":0.35},{"r":29,"x":0.25,"y":0.31},{"r":29,"x":0.3,"y":0.265},{"r":29,"x":0.35,"y":0.218},{"r":29,"x":0.4,"y":0.17},{"r":29,"x":0.45,"y":0.124},{"r":29,"x":0.5,"y":0.082},{"r":29,"x":0.55,"y":0.048},{"r":29,"x":0.6,"y":0.026},{"r":29,"x":0.65,"y":0.016},{"r":29,"x":0.7,"y":0.014},{"r":29,"x":0.8,"y":0.012},{"r":29,"x":0.944,"y":0.003},
{"r":30,"x":0,"y":0.38},{"r":30,"x":0.02,"y":0.4},{"r":30,"x":0.05,"y":0.46},{"r":30,"x":0.08,"y":0.49},{"r":30,"x":0.11,"y":0.5},{"r":30,"x":0.14,"y":0.49},{"r":30,"x":0.17,"y":0.465},{"r":30,"x":0.2,"y":0.43},{"r":30,"x":0.25,"y":0.37},{"r":30,"x":0.3,"y":0.305},{"r":30,"x":0.35,"y":0.24},{"r":30,"x":0.4,"y":0.178},{"r":30,"x":0.45,"y":0.12},{"r":30,"x":0.5,"y":0.07},{"r":30,"x":0.55,"y":0.03},{"r":30,"x":0.6,"y":0.004},{"r":30,"x":0.65,"y":-0.012},{"r":30,"x":0.7,"y":-0.02},{"r":30,"x":0.8,"y":-0.018},{"r":30,"x":0.944,"y":-0.002},
{"r":31,"x":0,"y":0.36},{"r":31,"x":0.02,"y":0.37},{"r":31,"x":0.05,"y":0.42},{"r":31,"x":0.08,"y":0.44},{"r":31,"x":0.11,"y":0.44},{"r":31,"x":0.14,"y":0.425},{"r":31,"x":0.17,"y":0.4},{"r":31,"x":0.2,"y":0.37},{"r":31,"x":0.25,"y":0.322},{"r":31,"x":0.3,"y":0.27},{"r":31,"x":0.35,"y":0.215},{"r":31,"x":0.4,"y":0.165},{"r":31,"x":0.45,"y":0.12},{"r":31,"x":0.5,"y":0.085},{"r":31,"x":0.55,"y":0.06},{"r":31,"x":0.6,"y":0.05},{"r":31,"x":0.65,"y":0.06},{"r":31,"x":0.7,"y":0.07},{"r":31,"x":0.8,"y":0.05},{"r":31,"x":0.944,"y":0.01},
{"r":32,"x":0,"y":0.355},{"r":32,"x":0.02,"y":0.375},{"r":32,"x":0.05,"y":0.425},{"r":32,"x":0.08,"y":0.447},{"r":32,"x":0.11,"y":0.45},{"r":32,"x":0.14,"y":0.436},{"r":32,"x":0.17,"y":0.41},{"r":32,"x":0.2,"y":0.383},{"r":32,"x":0.25,"y":0.34},{"r":32,"x":0.3,"y":0.29},{"r":32,"x":0.35,"y":0.236},{"r":32,"x":0.4,"y":0.183},{"r":32,"x":0.45,"y":0.134},{"r":32,"x":0.5,"y":0.09},{"r":32,"x":0.55,"y":0.052},{"r":32,"x":0.6,"y":0.026},{"r":32,"x":0.65,"y":0.014},{"r":32,"x":0.7,"y":0.01},{"r":32,"x":0.8,"y":0.006},{"r":32,"x":0.944,"y":0.001},
{"r":33,"x":0,"y":0.34},{"r":33,"x":0.02,"y":0.36},{"r":33,"x":0.05,"y":0.41},{"r":33,"x":0.08,"y":0.43},{"r":33,"x":0.11,"y":0.43},{"r":33,"x":0.14,"y":0.41},{"r":33,"x":0.17,"y":0.36},{"r":33,"x":0.2,"y":0.32},{"r":33,"x":0.23,"y":0.31},{"r":33,"x":0.27,"y":0.3},{"r":33,"x":0.3,"y":0.27},{"r":33,"x":0.35,"y":0.22},{"r":33,"x":0.4,"y":0.165},{"r":33,"x":0.45,"y":0.115},{"r":33,"x":0.5,"y":0.07},{"r":33,"x":0.55,"y":0.035},{"r":33,"x":0.6,"y":0.012},{"r":33,"x":0.7,"y":0.004},{"r":33,"x":0.8,"y":0.003},{"r":33,"x":0.944,"y":0.001}
]
},
"encoding": {
 "x": {"field": "x", "type": "quantitative", "scale": {"domain": [0, 1], "nice": false, "zero": false}},
 "y": {"field": "y", "type": "quantitative", "scale": {"domain": [-0.0688, 0.4837], "nice": false, "zero": false}, "axis": {"values": [0, 0.1, 0.2, 0.3, 0.4], "format": ".1f", "title": "xd(x)", "grid": true, "labelPadding": 8, "titlePadding": 14}}
},
"layer": [
 {"data": {"name": "g"}, "mark": {"type": "line", "color": "#66c2a5", "strokeWidth": 1, "opacity": 0.33, "clip": true},
  "encoding": {"detail": {"field": "r", "type": "nominal"},
   "x": {"field": "x", "type": "quantitative", "scale": {"domain": [0, 1], "nice": false, "zero": false}, "axis": {"values": [0.2, 0.4, 0.6, 0.8], "format": ".1f", "title": "x", "grid": true, "labelPadding": 5, "titlePadding": 6}}}},
 {"data": {"name": "o"}, "mark": {"type": "line", "color": "#fc8d62", "strokeWidth": 1, "opacity": 0.3, "clip": true},
  "encoding": {"detail": {"field": "r", "type": "nominal"},
   "x": {"field": "x", "type": "quantitative", "axis": null}}},
 {"data": {"name": "c"}, "transform": [{"filter": "datum.s === 'n3fit DIS only'"}],
  "mark": {"type": "line", "strokeWidth": 4, "clip": true},
  "encoding": {"color": {"field": "s", "type": "nominal", "scale": {"domain": ["n3fit DIS only", "NNPDF 3.1 DIS only"], "range": ["#66c2a5", "#fc8d62"]}, "legend": {"title": null}},
   "x": {"field": "x", "type": "quantitative", "axis": {"orient": "top", "title": "d at 1.7 GeV", "titleFontSize": 26, "titlePadding": 9, "titleBaseline": "alphabetic", "labels": false, "ticks": false, "domain": false, "grid": false}}}},
 {"data": {"name": "c"}, "transform": [{"filter": "datum.s === 'NNPDF 3.1 DIS only'"}],
  "mark": {"type": "line", "strokeWidth": 4, "clip": true},
  "encoding": {"color": {"field": "s", "type": "nominal", "scale": {"domain": ["n3fit DIS only", "NNPDF 3.1 DIS only"], "range": ["#66c2a5", "#fc8d62"]}, "legend": {"title": null}},
   "x": {"field": "x", "type": "quantitative", "axis": null}}}
],
"resolve": {"axis": {"x": "independent"}}
}
